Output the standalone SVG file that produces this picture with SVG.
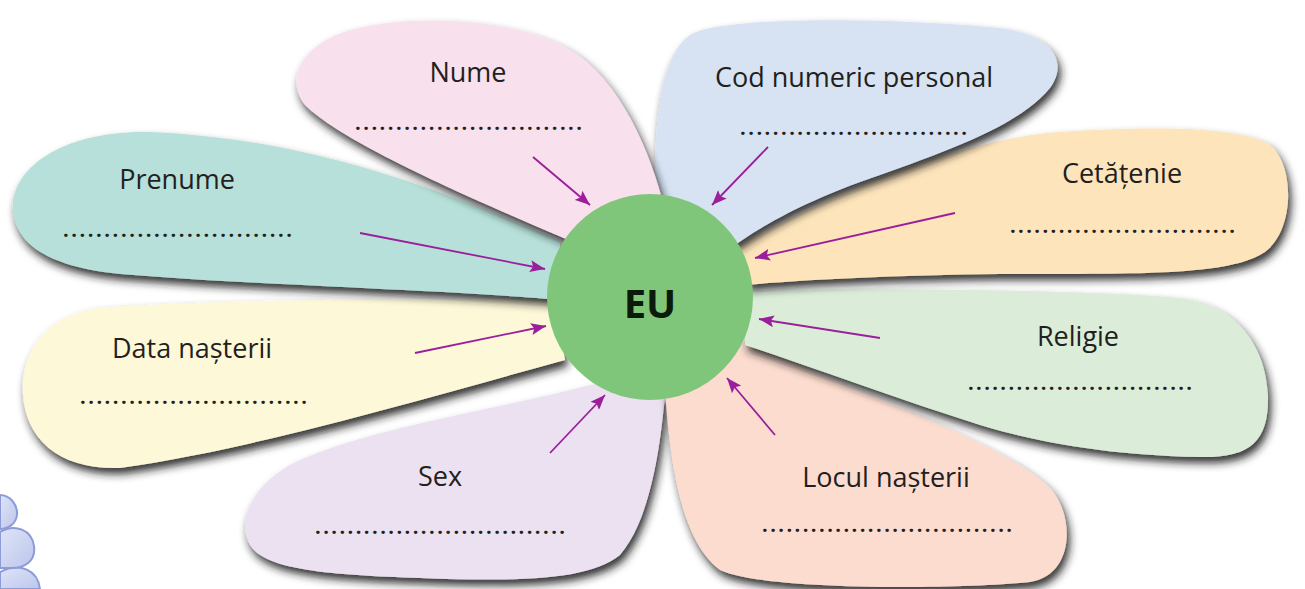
<svg xmlns="http://www.w3.org/2000/svg" width="1305" height="589" viewBox="0 0 1305 589">
<defs>
<filter id="sh" x="-10%" y="-10%" width="125%" height="135%">
<feDropShadow dx="3" dy="6" stdDeviation="4" flood-color="#1e1e1e" flood-opacity="0.9"/>
</filter>
<marker id="ah" markerUnits="userSpaceOnUse" markerWidth="16" markerHeight="12" refX="15" refY="6" orient="auto">
<path d="M0,0 L15,6 L0,12 L3,6 Z" fill="#9b1f9b"/>
</marker>
<linearGradient id="bub" x1="0" y1="0" x2="1" y2="1">
<stop offset="0" stop-color="#dfe4f7"/>
<stop offset="1" stop-color="#bcc6ec"/>
</linearGradient>
</defs>
<style>
.petal{filter:url(#sh);}
.lbl{font-family:"Open Sans","Noto Sans","DejaVu Sans",sans-serif;font-size:27px;fill:#231f20;text-anchor:middle;}
.dots{font-family:"Open Sans","Noto Sans","DejaVu Sans",sans-serif;font-size:20px;font-weight:bold;fill:#231f20;}
.arr{stroke:#9b1f9b;stroke-width:1.8;fill:none;marker-end:url(#ah);}
</style>
<rect width="1305" height="589" fill="#ffffff"/>

<g id="decoration">
<path d="M0,572 C20,562 38,570 40,589 L0,589 Z" fill="url(#bub)" stroke="#8d9bd8" stroke-width="2"/>
<path d="M0,532 C15,523 32,530 34,546 C36,561 25,569 8,568 L0,568 Z" fill="url(#bub)" stroke="#8d9bd8" stroke-width="2"/>
<path d="M0,495 C10,495 18,505 17,515 C16,524 8,529 0,529 Z" fill="url(#bub)" stroke="#8d9bd8" stroke-width="2"/>
</g>

<g id="sex">
<path class="petal" d="M610,380 C500,410 380,425 300,460 C255,480 235,520 250,545 C265,570 330,575 420,578 C520,582 590,580 620,555 C650,520 660,450 665,395 Z" fill="#ece1f0"/>
<text class="lbl" x="440" y="486">Sex</text>
<text class="dots" x="315" y="534" textLength="250" lengthAdjust="spacing">...............................</text>
</g>

<g id="locul-nasterii">
<path class="petal" d="M665,390 C670,460 680,540 720,570 C760,590 950,590 1030,582 C1075,575 1075,515 1050,488 C1000,440 850,390 740,340 Z" fill="#fbdccf"/>
<text class="lbl" x="886" y="487">Locul nașterii</text>
<text class="dots" x="762" y="532" textLength="250" lengthAdjust="spacing">...............................</text>
</g>

<g id="religie">
<path class="petal" d="M745,290 C900,288 1100,290 1180,298 C1240,305 1266,350 1268,395 C1269,440 1252,458 1200,457 C1100,455 1030,440 980,425 C900,400 820,370 745,345 Z" fill="#dbedd9"/>
<text class="lbl" x="1078" y="346">Religie</text>
<text class="dots" x="968" y="390" textLength="224" lengthAdjust="spacing">............................</text>
</g>

<g id="cetatenie">
<path class="petal" d="M740,245 C820,200 950,140 1060,132 C1150,126 1240,126 1270,145 C1295,165 1295,230 1265,252 C1230,275 1150,274 1000,274 C900,275 800,280 745,285 Z" fill="#fde4bb"/>
<text class="lbl" x="1122" y="183">Cetățenie</text>
<text class="dots" x="1010" y="233" textLength="225" lengthAdjust="spacing">............................</text>
</g>

<g id="cod-numeric-personal">
<path class="petal" d="M655,210 C655,140 655,60 690,35 C720,15 900,18 1000,28 C1050,35 1070,60 1050,88 C1020,125 950,150 880,175 C820,195 770,220 735,245 Z" fill="#d7e3f3"/>
<text class="lbl" x="854" y="87">Cod numeric personal</text>
<text class="dots" x="740" y="135" textLength="227" lengthAdjust="spacing">............................</text>
</g>

<g id="data-nasterii">
<path class="petal" d="M555,300 C400,298 200,300 100,308 C40,315 20,360 23,395 C26,440 60,470 120,468 C250,450 420,400 565,360 Z" fill="#fdf8d8"/>
<text class="lbl" x="192" y="358">Data nașterii</text>
<text class="dots" x="80" y="404" textLength="227" lengthAdjust="spacing">............................</text>
</g>

<g id="prenume">
<path class="petal" d="M560,240 C460,200 330,140 150,132 C60,130 10,170 13,210 C16,250 60,268 120,274 C250,285 450,290 560,300 Z" fill="#b6e0d9"/>
<text class="lbl" x="177" y="189">Prenume</text>
<text class="dots" x="63" y="237" textLength="229" lengthAdjust="spacing">............................</text>
</g>

<g id="nume">
<path class="petal" d="M665,210 C650,150 620,80 570,50 C520,20 420,12 350,30 C300,45 285,80 305,105 C340,140 450,190 580,245 Z" fill="#f9e0ed"/>
<text class="lbl" x="468" y="82">Nume</text>
<text class="dots" x="355" y="130" textLength="227" lengthAdjust="spacing">............................</text>
</g>

<g id="eu">
<circle cx="650" cy="297" r="103" fill="#7fc67a"/>
<text x="650" y="318" font-family="'Open Sans','Noto Sans','DejaVu Sans',sans-serif" font-size="40" font-weight="bold" fill="#0b1a0b" text-anchor="middle">EU</text>
</g>

<g id="connectors">
<line class="arr" x1="533" y1="157" x2="590" y2="205"/>
<line class="arr" x1="768" y1="147" x2="712" y2="205"/>
<line class="arr" x1="360" y1="233" x2="545" y2="269"/>
<line class="arr" x1="955" y1="213" x2="755" y2="258"/>
<line class="arr" x1="415" y1="353" x2="546" y2="326"/>
<line class="arr" x1="880" y1="338" x2="759" y2="319"/>
<line class="arr" x1="550" y1="453" x2="605" y2="395"/>
<line class="arr" x1="775" y1="435" x2="727" y2="378"/>
</g>
</svg>
